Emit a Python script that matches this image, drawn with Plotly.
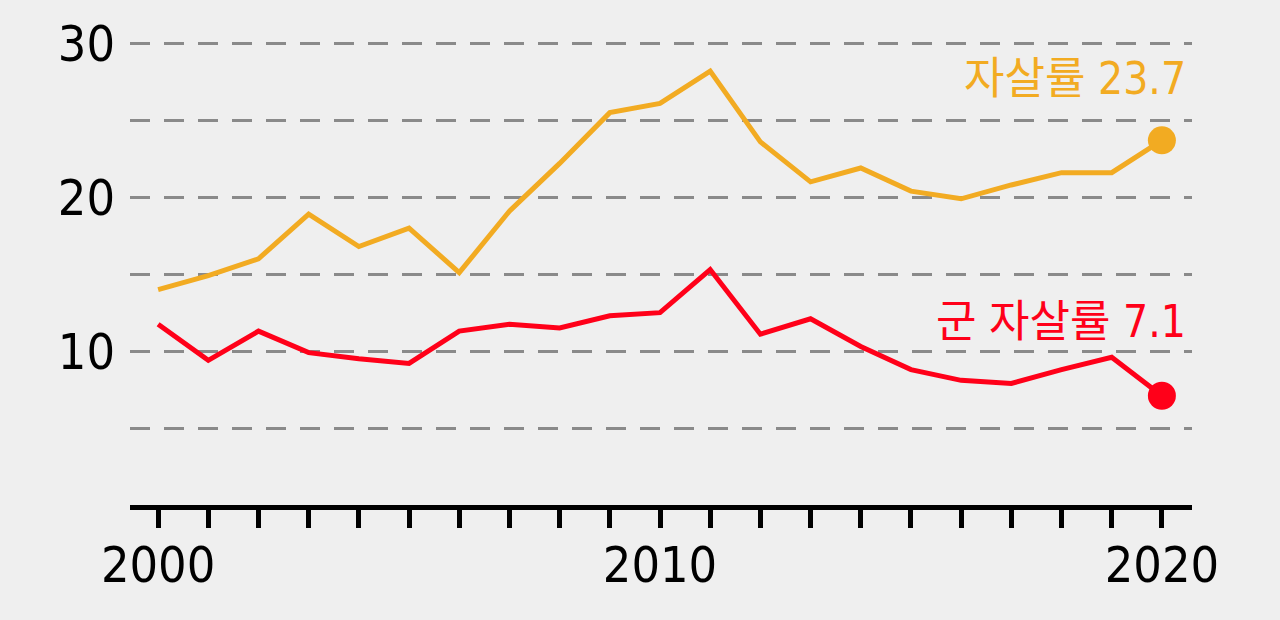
import plotly.graph_objects as go

years = list(range(2000, 2021))
suicide_rate = [14.0, 14.9, 16.0, 18.9, 16.8, 18.0, 15.1, 19.1, 22.2, 25.5, 26.1,
                28.2, 23.6, 21.0, 21.9, 20.4, 19.9, 20.8, 21.6, 21.6, 23.7]
military_rate = [11.75, 9.4, 11.3, 9.9, 9.5, 9.2, 11.3, 11.75, 11.5, 12.3, 12.5,
                 15.3, 11.1, 12.1, 10.3, 8.8, 8.1, 7.9, 8.8, 9.6, 7.1]
y_tickvals = [5, 10, 15, 20, 25, 30]
y_ticktext = ["", "10", "", "20", "", "30"]
x_tickvals = [2000, 2010, 2020]
labels = ["자살률 23.7", "군 자살률 7.1"]

ORANGE = "#F2AB22"
RED = "#FF0019"
BG = "#EFEFEF"
NUMFONT = "Liberation Sans Narrow, DejaVu Sans Condensed, Roboto, Noto Sans CJK KR"
KRFONT = "Liberation Sans Narrow, DejaVu Sans Condensed, Noto Sans CJK KR"

fig = go.Figure()
fig.add_trace(go.Scatter(x=years, y=suicide_rate, mode="lines",
                         line=dict(color=ORANGE, width=5), hoverinfo="skip"))
fig.add_trace(go.Scatter(x=years, y=military_rate, mode="lines",
                         line=dict(color=RED, width=5), hoverinfo="skip"))
fig.add_trace(go.Scatter(x=[years[-1]], y=[suicide_rate[-1]], mode="markers",
                         marker=dict(color=ORANGE, size=28), hoverinfo="skip"))
fig.add_trace(go.Scatter(x=[years[-1]], y=[military_rate[-1]], mode="markers",
                         marker=dict(color=RED, size=28), hoverinfo="skip"))

fig.add_annotation(x=2020.52, y=27.7, xref="x", yref="y", text=labels[0],
                   showarrow=False, xanchor="right", yanchor="middle",
                   font=dict(family=KRFONT, size=44, color=ORANGE))
fig.add_annotation(x=2020.52, y=11.9, xref="x", yref="y", text=labels[1],
                   showarrow=False, xanchor="right", yanchor="middle",
                   font=dict(family=KRFONT, size=44, color=RED))

fig.update_layout(
    width=1280, height=620,
    paper_bgcolor=BG, plot_bgcolor=BG,
    margin=dict(l=130, r=88, t=28, b=115),
    showlegend=False,
    font=dict(family=NUMFONT, color="black"),
)
fig.update_xaxes(
    range=[1999.44, 2020.6], showgrid=False, zeroline=False,
    showline=True, linecolor="black", linewidth=4.5,
    tickmode="array", tickvals=x_tickvals,
    ticks="outside", ticklen=18, tickwidth=4.5, tickcolor="black",
    ticklabelstandoff=-6,
    tickfont=dict(family=NUMFONT, size=50, color="black"),
    minor=dict(dtick=1, tick0=2000, ticks="outside", ticklen=18, tickwidth=4.5,
               tickcolor="black", showgrid=False),
)
fig.update_yaxes(
    range=[0, 31], zeroline=False, showline=False,
    tickmode="array", tickvals=y_tickvals, ticktext=y_ticktext,
    showgrid=True, gridcolor="#8A8A8A", gridwidth=3, griddash="20px,14px",
    ticks="", ticklabelstandoff=14,
    tickfont=dict(family=NUMFONT, size=50, color="black"),
)

fig.write_html("out.html", config={"displayModeBar": False},
               post_script="document.body.style.margin='0';document.body.style.background='#EFEFEF';")
